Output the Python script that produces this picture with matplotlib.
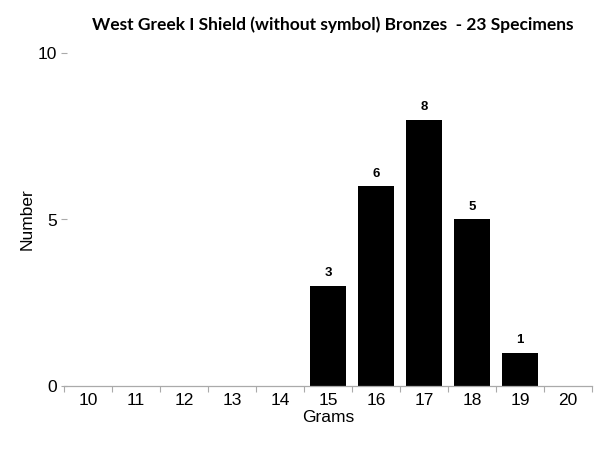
import matplotlib
matplotlib.use("Agg")
import matplotlib.pyplot as plt
import numpy as np

categories = ["10", "11", "12", "13", "14", "15", "16", "17", "18", "19", "20"]
counts = [0, 0, 0, 0, 0, 3, 6, 8, 5, 1, 0]
y_ticks = [0, 5, 10]
title = "West Greek I Shield (without symbol) Bronzes  - 23 Specimens"

fig = plt.figure(figsize=(6.0, 4.63), dpi=100)
ax = fig.add_axes([64/600, 1-386/463, (592-64)/600, (386-53)/463])

x = np.arange(len(categories))
bars = ax.bar(x, counts, width=0.77, color="black", zorder=2)
for xi, c in zip(x, counts):
    if c > 0:
        ax.text(xi, c + 0.2, str(c), ha="center", va="bottom",
                fontsize=9.5, fontweight="bold", family="Liberation Sans")

ax.set_xlim(-0.5, len(categories) - 0.5)
ax.set_ylim(0, 10)
ax.set_yticks(y_ticks)
ax.set_yticklabels([str(v) for v in y_ticks], family="Liberation Sans", fontsize=12.5)
ax.set_xticks(x)
ax.set_xticklabels(categories, family="Liberation Sans", fontsize=12.5)
ax.set_xticks(np.arange(len(categories) + 1) - 0.5, minor=True)
ax.tick_params(axis="x", which="major", length=0, pad=5)
ax.tick_params(axis="x", which="minor", length=4, color="#aaaaaa", width=0.8)
ax.tick_params(axis="y", direction="inout", length=4.5, color="#aaaaaa", width=0.8, pad=3)

for s in ["top", "right", "left"]:
    ax.spines[s].set_visible(False)
ax.spines["bottom"].set_color("#aaaaaa")
ax.spines["bottom"].set_linewidth(0.9)

ax.set_xlabel("Grams", family="Liberation Sans", fontsize=12.5)
ax.set_ylabel("Number", family="Liberation Sans", fontsize=12.5)
ax.xaxis.set_label_coords(0.5, -(417 - 386) / 333, transform=ax.transAxes)
ax.xaxis.label.set_va("center")
ax.yaxis.set_label_coords((27 - 64) / 528, 0.5, transform=ax.transAxes)
ax.yaxis.label.set_va("center")

fig.text(333/600, 1-25/463, title, ha="center", va="center",
         fontsize=12.5, fontweight="bold", family="Lato")

fig.savefig("out.png", dpi=100)
